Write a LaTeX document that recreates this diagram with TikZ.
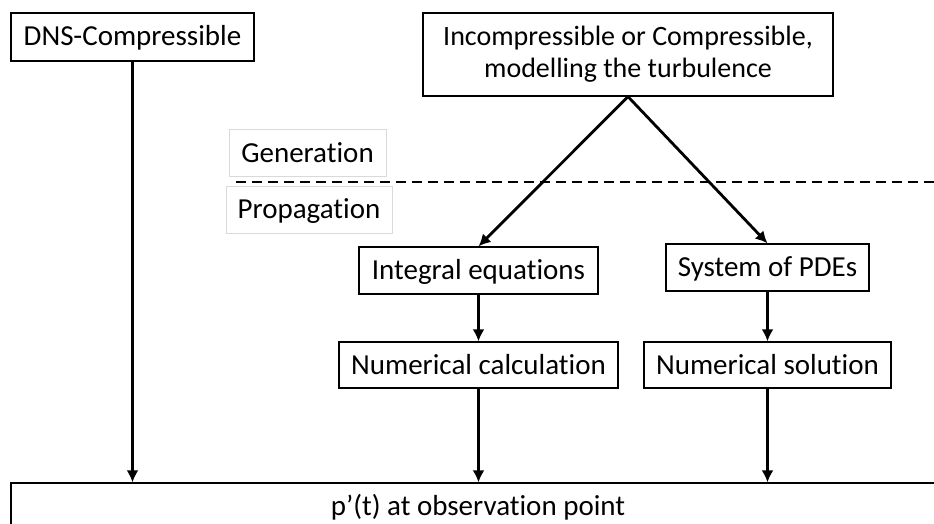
\documentclass[tikz,border=0pt]{standalone}
\usepackage{fontspec}
\setmainfont{Carlito}[Ligatures={NoCommon,NoRare}]
\usetikzlibrary{arrows.meta}

\tikzset{
  box/.style={draw=black, line width=1.3pt, inner sep=0pt, align=center,
    text height=23pt, text depth=5pt, font=\fontsize{29}{33}\selectfont},
  softbox/.style={box, draw=gray!30, line width=1pt},
  flow/.style={line width=2.8pt, -{Latex[length=12pt,width=12pt]}},
}

\begin{document}
\begin{tikzpicture}[x=1pt,y=-1pt]
\useasboundingbox (0,0) rectangle (934,524);

% source boxes
\node[box, minimum width=243pt, minimum height=48pt] (dns) at (132.5,37) {DNS-Compressible};
\node[box, minimum width=410pt, minimum height=83pt, text height=, text depth=,
  font=\fontsize{28}{32}\selectfont] (src) at (628,54.5)
  {Incompressible or Compressible,\\ modelling the turbulence};

% generation / propagation
\node[softbox, minimum width=157pt, minimum height=46pt] (gen) at (307.5,153) {Generation};
\node[softbox, minimum width=166pt, minimum height=47pt] (prop) at (309,209.5) {Propagation};
\coordinate (cutL) at (236,182);
\coordinate (cutR) at (934,182);
\draw[line width=2pt, dash pattern=on 10pt off 6pt] (cutL) -- (cutR);

% methods
\node[box, minimum width=239pt, minimum height=47pt] (integ) at (478.5,270.5) {Integral equations};
\node[box, minimum width=203pt, minimum height=47pt] (pdes) at (767.5,267.5) {System of PDEs};
\node[box, minimum width=279pt, minimum height=46pt] (numcalc) at (478.5,365) {Numerical calculation};
\node[box, minimum width=247pt, minimum height=46pt] (numsol) at (767.5,365) {Numerical solution};

% observer
\node[box, minimum width=934pt, minimum height=46pt] (obs) at (478,506) {p’(t) at observation point};

\draw[flow] (src.south) -- (integ.north);
\draw[flow] (src.south) -- (pdes.north);
\draw[flow] (integ) -- (numcalc);
\draw[flow] (pdes) -- (numsol);
\draw[flow] (dns.south) -- (dns.south |- obs.north);
\draw[flow] (numcalc.south) -- (numcalc.south |- obs.north);
\draw[flow] (numsol.south) -- (numsol.south |- obs.north);
\end{tikzpicture}
\end{document}
